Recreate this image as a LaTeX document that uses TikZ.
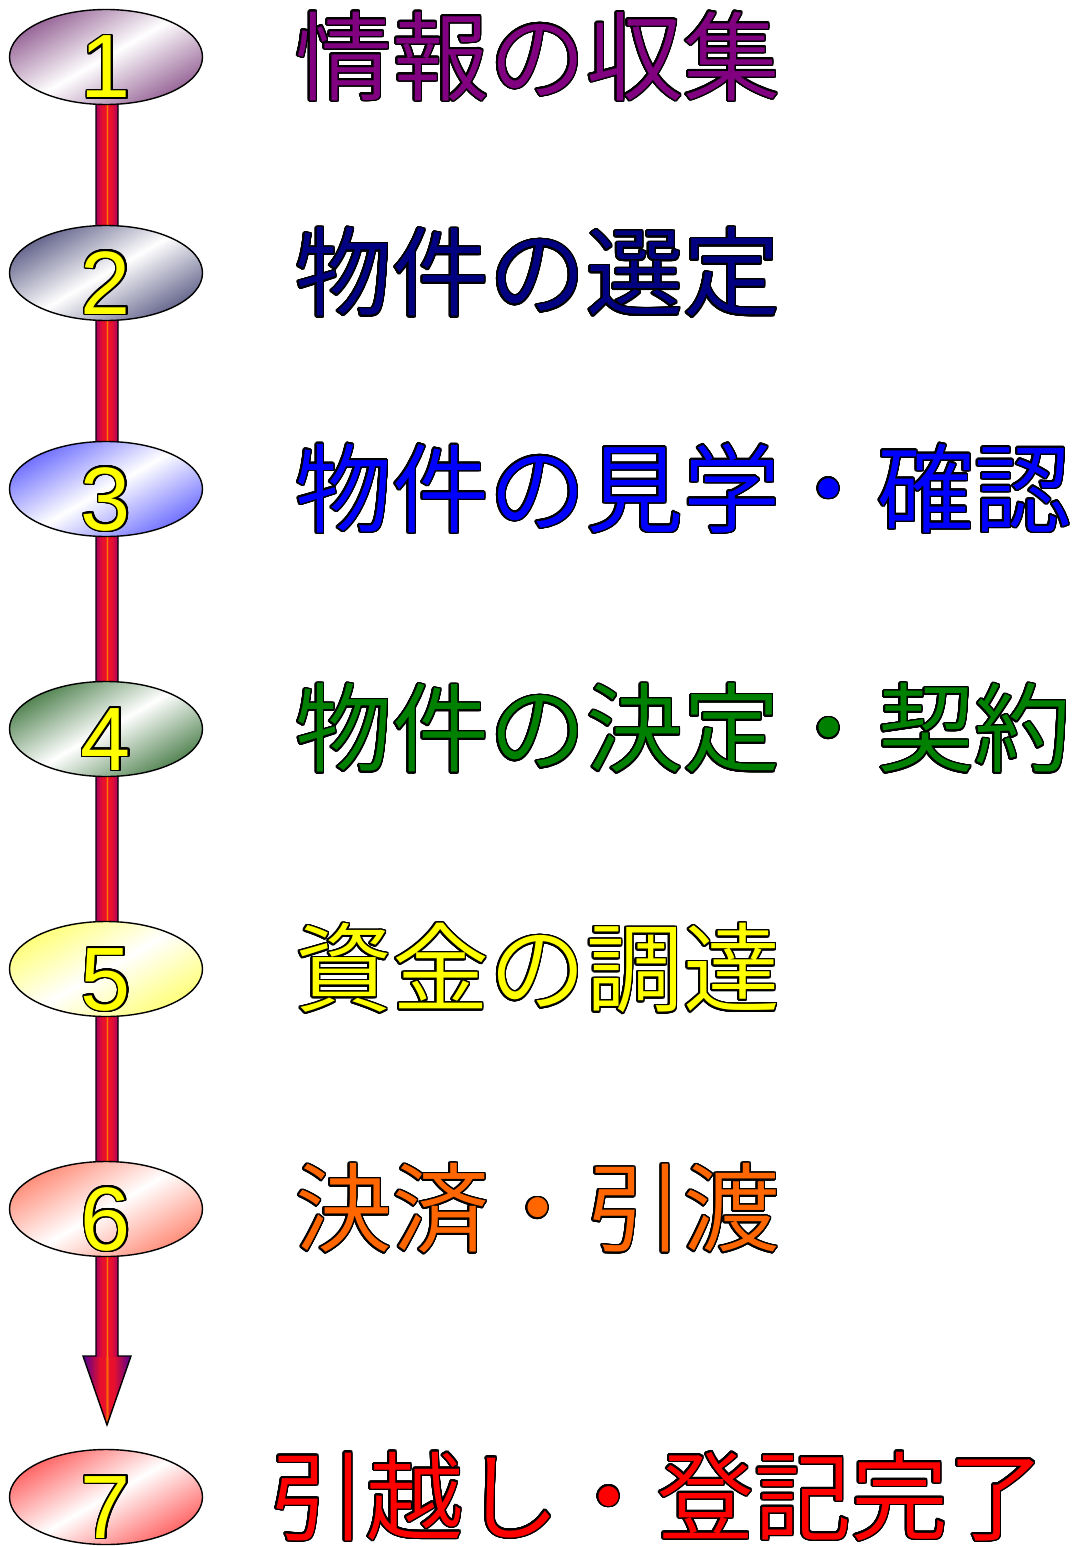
\documentclass[tikz,border=0pt]{standalone}
\usepackage{fontspec}
\setmainfont{Liberation Sans}
\newfontfamily\jpfont{Noto Sans CJK JP DemiLight}
\newfontfamily\numfont{Liberation Sans}
\usepackage[copies]{contour}
\contourlength{1.5pt}
\contournumber{32}
\usetikzlibrary{shapes.geometric}
\definecolor{ec1}{RGB}{150,100,150}
\definecolor{ec2}{RGB}{100,100,140}
\definecolor{ec3}{RGB}{110,110,255}
\definecolor{ec4}{RGB}{80,130,80}
\definecolor{ec5}{RGB}{255,255,120}
\definecolor{ec6}{RGB}{255,140,120}
\definecolor{ec7}{RGB}{255,100,100}
\definecolor{tc1}{RGB}{128,0,128}
\definecolor{tc2}{RGB}{0,0,128}
\definecolor{tc3}{RGB}{0,0,255}
\definecolor{tc4}{RGB}{0,128,0}
\definecolor{tc5}{RGB}{255,255,0}
\definecolor{tc6}{RGB}{255,102,0}
\definecolor{tc7}{RGB}{255,0,0}
\definecolor{numyellow}{RGB}{255,255,0}
\definecolor{shA}{RGB}{170,0,100}
\definecolor{shB}{RGB}{232,16,44}
\definecolor{shC}{RGB}{255,120,0}
\definecolor{hdA}{RGB}{80,0,150}
\pgfdeclarehorizontalshading{shaftshade}{100bp}{color(0bp)=(shA); color(25bp)=(shA); color(40bp)=(shB); color(47bp)=(shB); color(50bp)=(shC); color(53bp)=(shB); color(60bp)=(shB); color(75bp)=(shA); color(100bp)=(shA)}
\pgfdeclarehorizontalshading{headshade}{100bp}{color(0bp)=(hdA); color(25bp)=(hdA); color(43bp)=(shB); color(48bp)=(shB); color(50bp)=(shC); color(52bp)=(shB); color(57bp)=(shB); color(75bp)=(hdA); color(100bp)=(hdA)}
\begin{document}
\begin{tikzpicture}[x=1pt,y=-1pt,
  stage/.style={ellipse, draw=black, line width=1.4pt, minimum width=193pt, minimum height=95pt, inner sep=0pt,
    top color=#1, bottom color=#1, middle color=white, shading angle=30},
  numlbl/.style={anchor=base, yshift=-41pt, inner sep=0pt, text=numyellow,
    font=\numfont\fontsize{90}{90}\selectfont},
  steptxt/.style={anchor=west, inner sep=0pt, font=\jpfont\fontsize{97}{97}\selectfont},
  outline/.style={draw=black, line width=1.4pt, line join=miter}]
\useasboundingbox (0,0) rectangle (1079,1546);
% arrow
\coordinate (shafttop) at (107,100);
\coordinate (headbase) at (107,1356);
\coordinate (tip) at (107,1425);
\shade[shading=headshade] ([xshift=-24pt]headbase) -- ([xshift=24pt]headbase) -- (tip) -- cycle;
\shade[shading=shaftshade] ([xshift=-11pt]shafttop) rectangle ([xshift=11pt]headbase);
\draw[outline] ([xshift=-11pt]shafttop) -- ([xshift=-11pt]headbase) -- ([xshift=-24pt]headbase) -- (tip)
  -- ([xshift=24pt]headbase) -- ([xshift=11pt]headbase) -- ([xshift=11pt]shafttop);
% stages
\node[stage=ec1] (e1) at (106,57) {};
\node[stage=ec2] (e2) at (106,273) {};
\node[stage=ec3] (e3) at (106,489) {};
\node[stage=ec4] (e4) at (106,729) {};
\node[stage=ec5] (e5) at (106,969) {};
\node[stage=ec6] (e6) at (106,1209) {};
\node[stage=ec7] (e7) at (106,1497) {};
\node[numlbl] (n1) at (e1.center) {\contour{black}{1}};
\node[numlbl] (n2) at (e2.center) {\contour{black}{2}};
\node[numlbl] (n3) at (e3.center) {\contour{black}{3}};
\node[numlbl] (n4) at (e4.center) {\contour{black}{4}};
\node[numlbl] (n5) at (e5.center) {\contour{black}{5}};
\node[numlbl] (n6) at (e6.center) {\contour{black}{6}};
\node[numlbl] (n7) at (e7.center) {\contour{black}{7}};
% texts
\node[steptxt, text=tc1] (t1) at (295,57) {\contour{black}{情報の収集}};
\node[steptxt, text=tc2] (t2) at (295,273) {\contour{black}{物件の選定}};
\node[steptxt, text=tc3] (t3) at (295,489) {\contour{black}{物件の見学・確認}};
\node[steptxt, text=tc4] (t4) at (295,729) {\contour{black}{物件の決定・契約}};
\node[steptxt, text=tc5] (t5) at (295,969) {\contour{black}{資金の調達}};
\node[steptxt, text=tc6] (t6) at (295,1209) {\contour{black}{決済・引渡}};
\node[steptxt, text=tc7] (t7) at (269,1497) {\contour{black}{引越し・登記完了}};
\end{tikzpicture}
\end{document}
